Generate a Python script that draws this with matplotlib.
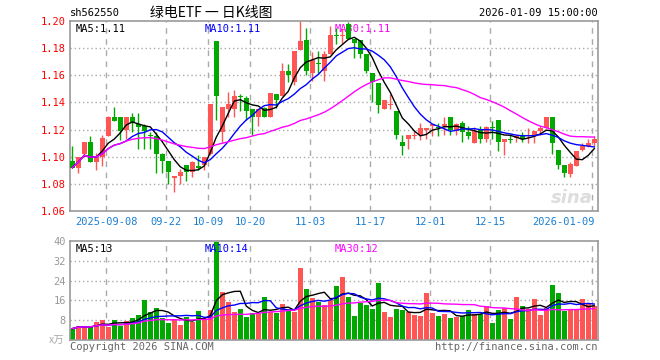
import matplotlib
matplotlib.use("Agg")
import matplotlib.pyplot as plt
import numpy as np
import pandas as pd

# daily candles, 2025-08-29 .. 2026-01-09
opens = [1.097, 1.092, 1.102, 1.111, 1.096, 1.100, 1.115, 1.129, 1.129, 1.120,
         1.129, 1.124, 1.123, 1.116, 1.115, 1.102, 1.097, 1.084, 1.086, 1.094,
         1.089, 1.093, 1.094, 1.102, 1.185, 1.118, 1.135, 1.135, 1.145, 1.143,
         1.135, 1.129, 1.136, 1.129, 1.146, 1.145, 1.163, 1.155, 1.179, 1.186,
         1.162, 1.169, 1.163, 1.176, 1.190, 1.189, 1.198, 1.187, 1.186, 1.176,
         1.162, 1.154, 1.135, 1.138, 1.134, 1.111, 1.113, 1.115, 1.116, 1.120,
         1.123, 1.122, 1.123, 1.129, 1.119, 1.125, 1.118, 1.110, 1.120, 1.113,
         1.122, 1.127, 1.111, 1.113, 1.114, 1.115, 1.115, 1.115, 1.119, 1.121,
         1.129, 1.105, 1.094, 1.087, 1.093, 1.105, 1.108, 1.110]
highs = [1.108, 1.100, 1.111, 1.115, 1.103, 1.116, 1.130, 1.137, 1.129, 1.129,
         1.132, 1.132, 1.124, 1.118, 1.118, 1.103, 1.097, 1.086, 1.091, 1.094,
         1.097, 1.101, 1.100, 1.139, 1.185, 1.137, 1.148, 1.149, 1.146, 1.145,
         1.135, 1.135, 1.137, 1.147, 1.146, 1.169, 1.168, 1.178, 1.200, 1.195,
         1.177, 1.178, 1.178, 1.196, 1.195, 1.194, 1.199, 1.187, 1.186, 1.176,
         1.162, 1.154, 1.142, 1.146, 1.134, 1.116, 1.116, 1.119, 1.125, 1.121,
         1.124, 1.125, 1.129, 1.129, 1.125, 1.126, 1.123, 1.122, 1.123, 1.123,
         1.126, 1.127, 1.113, 1.116, 1.116, 1.118, 1.121, 1.119, 1.123, 1.129,
         1.129, 1.105, 1.094, 1.096, 1.104, 1.110, 1.113, 1.115]
lows = [1.092, 1.088, 1.100, 1.096, 1.090, 1.093, 1.115, 1.126, 1.112, 1.113,
        1.118, 1.106, 1.106, 1.106, 1.088, 1.088, 1.080, 1.074, 1.080, 1.082,
        1.085, 1.090, 1.090, 1.101, 1.127, 1.111, 1.129, 1.129, 1.134, 1.127,
        1.116, 1.123, 1.129, 1.129, 1.136, 1.145, 1.155, 1.153, 1.179, 1.160,
        1.156, 1.162, 1.156, 1.176, 1.183, 1.183, 1.187, 1.173, 1.173, 1.162,
        1.140, 1.132, 1.135, 1.135, 1.113, 1.101, 1.106, 1.113, 1.112, 1.113,
        1.115, 1.115, 1.116, 1.116, 1.116, 1.111, 1.113, 1.110, 1.110, 1.111,
        1.113, 1.104, 1.101, 1.110, 1.111, 1.111, 1.110, 1.110, 1.116, 1.121,
        1.102, 1.091, 1.085, 1.085, 1.093, 1.104, 1.107, 1.108]
closes = [1.092, 1.100, 1.111, 1.096, 1.100, 1.114, 1.129, 1.126, 1.119, 1.129,
          1.125, 1.122, 1.119, 1.115, 1.102, 1.097, 1.089, 1.086, 1.089, 1.089,
          1.096, 1.092, 1.100, 1.139, 1.145, 1.137, 1.139, 1.145, 1.144, 1.134,
          1.129, 1.135, 1.129, 1.147, 1.142, 1.163, 1.160, 1.178, 1.185, 1.163,
          1.171, 1.168, 1.176, 1.190, 1.189, 1.190, 1.187, 1.184, 1.176, 1.163,
          1.155, 1.138, 1.142, 1.139, 1.116, 1.108, 1.116, 1.116, 1.121, 1.121,
          1.124, 1.121, 1.124, 1.120, 1.124, 1.118, 1.115, 1.119, 1.113, 1.122,
          1.121, 1.111, 1.113, 1.112, 1.115, 1.113, 1.116, 1.119, 1.121, 1.129,
          1.110, 1.094, 1.088, 1.095, 1.104, 1.108, 1.110, 1.113]
volumes = [4.6, 5.8, 5.4, 5.4, 7.3, 8.1, 5.4, 8.1, 5.8, 7.7,
           9.0, 10.1, 16.3, 11.2, 13.0, 9.0, 6.9, 8.5, 6.0, 9.4,
           7.4, 11.7, 8.5, 12.2, 39.5, 19.5, 15.5, 11.4, 12.6, 9.4,
           11.0, 11.0, 17.5, 11.2, 11.0, 14.5, 12.1, 11.4, 29.2, 20.6,
           17.1, 15.5, 14.1, 16.1, 21.8, 25.4, 17.3, 9.7, 15.1, 14.1,
           12.5, 23.0, 11.3, 9.3, 12.5, 12.1, 11.3, 10.1, 9.7, 19.0,
           10.9, 9.7, 10.5, 8.9, 9.3, 9.7, 12.1, 10.6, 10.5, 13.7,
           6.9, 12.1, 12.8, 8.5, 17.3, 13.7, 12.5, 16.5, 10.1, 12.9,
           22.2, 19.0, 11.7, 12.1, 12.5, 16.5, 14.5, 13.7]

tick_idx = [6, 16, 23, 30, 40, 50, 60, 70, 87]
tick_labels = ["2025-09-08", "09-22", "10-09", "10-20", "11-03",
               "11-17", "12-01", "12-15", "2026-01-09"]
price_ticks = [1.06, 1.08, 1.10, 1.12, 1.14, 1.16, 1.18, 1.20]
vol_ticks = [8, 16, 24, 32, 40]

RED = "#ff5555"
GREEN = "#00a800"
GRID = "#aaaaaa"
EDGE = "#999999"
MONO = "DejaVu Sans Mono"

df = pd.DataFrame({"o": opens, "h": highs, "l": lows, "c": closes, "v": volumes})
x = np.arange(len(df))
up = df.c >= df.o
colors = np.where(up, RED, GREEN)

W, H = 660, 360
fig = plt.figure(figsize=(6.6, 3.6), dpi=100)
fig.patch.set_facecolor("white")


def px_axes(left, top, right, bottom):
    return fig.add_axes([left / W, 1 - bottom / H, (right - left) / W, (bottom - top) / H])


ax = px_axes(70, 21, 598, 211)
axv = px_axes(70, 241, 598, 340)

xlim = (-0.38, len(df) - 1 + 0.62)
for a in (ax, axv):
    a.set_xlim(xlim)
    for s in a.spines.values():
        s.set_color(EDGE)
        s.set_linewidth(1.2)
    a.set_xticks([])
    a.tick_params(axis="y", length=0, pad=3)
    for t in tick_idx:
        a.axvline(t - 0.33, color=GRID, lw=1, ls=(0, (4, 4)), zorder=0)

# price panel
ax.set_ylim(1.06, 1.20)
ax.set_yticks(price_ticks)
ax.set_yticklabels(["%.2f" % p for p in price_ticks], color="red", fontsize=7.5, family=MONO)
for p in price_ticks[1:-1]:
    ax.axhline(p, color=GRID, lw=1, ls=(0, (1, 2)), zorder=0)

ax.vlines(x, df.l, df.h, colors=colors, lw=1, zorder=2)
body = np.maximum((df.c - df.o).abs(), 0.0004)
ax.bar(x, body, bottom=np.minimum(df.o, df.c), width=0.8, color=colors, zorder=3)

ma_cols = [(5, "black"), (10, "#0000ff"), (30, "#ff00ff")]
for n, col in ma_cols:
    ax.plot(x, df.c.rolling(n, min_periods=1).mean(), color=col, lw=1, zorder=4)

ax.text(0.01, 0.985, "MA5:1.11", transform=ax.transAxes, ha="left", va="top",
        fontsize=7.5, family=MONO, color="black")
ax.text((205 - 70) / 528, 0.985, "MA10:1.11", transform=ax.transAxes, ha="left", va="top",
        fontsize=7.5, family=MONO, color="#0000ff")
ax.text((335 - 70) / 528, 0.985, "MA30:1.11", transform=ax.transAxes, ha="left", va="top",
        fontsize=7.5, family=MONO, color="#ff00ff", zorder=1)
ax.text(0.99, 0.02, "sina", transform=ax.transAxes, ha="right", va="bottom",
        fontsize=13, fontweight="bold", style="italic", color="#dddddd", zorder=1)

# date labels between panels
for t, lab in zip(tick_idx, tick_labels):
    ha = "right" if t == tick_idx[-1] else "center"
    xx = t - 0.33 if ha == "center" else t
    ax.text(xx, -11 / 190, lab, transform=ax.get_xaxis_transform(), ha=ha, va="center",
            fontsize=7.5, family=MONO, color="#1a7fd4")

# volume panel
axv.set_ylim(0, 40)
axv.set_yticks(vol_ticks)
axv.set_yticklabels([str(v) for v in vol_ticks], color="#999999", fontsize=7.5, family=MONO)
for v in vol_ticks[:-1]:
    axv.axhline(v, color=GRID, lw=1, ls=(0, (1, 2)), zorder=0)
axv.bar(x, df.v, width=0.8, color=colors, zorder=2)
for n, col in ma_cols:
    axv.plot(x, df.v.rolling(n, min_periods=1).mean(), color=col, lw=1, zorder=4)

axv.text(0.01, 0.97, "MA5:13", transform=axv.transAxes, ha="left", va="top",
         fontsize=7.5, family=MONO, color="black")
axv.text((205 - 70) / 528, 0.97, "MA10:14", transform=axv.transAxes, ha="left", va="top",
         fontsize=7.5, family=MONO, color="#0000ff")
axv.text((335 - 70) / 528, 0.97, "MA30:12", transform=axv.transAxes, ha="left", va="top",
         fontsize=7.5, family=MONO, color="#ff00ff")

# header and footer
fig.text(70 / W, 1 - 13 / H, "sh562550", ha="left", va="center", fontsize=7.5, family=MONO)
fig.text(150 / W, 1 - 13 / H, "绿电ETF 一 日K线图", ha="left", va="center", fontsize=10,
         family=["Noto Sans CJK SC", "DejaVu Sans"])
fig.text(598 / W, 1 - 13 / H, "2026-01-09 15:00:00", ha="right", va="center",
         fontsize=7.5, family=MONO)
fig.text(49 / W, 1 - 341 / H, "x万", ha="left", va="center", fontsize=7.5, color="#aaaaaa",
         family=["Noto Sans CJK SC", "DejaVu Sans"])
fig.text(70 / W, 1 - 347 / H, "Copyright 2026 SINA.COM", ha="left", va="center",
         fontsize=7.5, family=MONO, color="#666666")
fig.text(598 / W, 1 - 347 / H, "http://finance.sina.com.cn", ha="right", va="center",
         fontsize=7.5, family=MONO, color="#666666")

fig.savefig("out.png", dpi=100, facecolor="white")
